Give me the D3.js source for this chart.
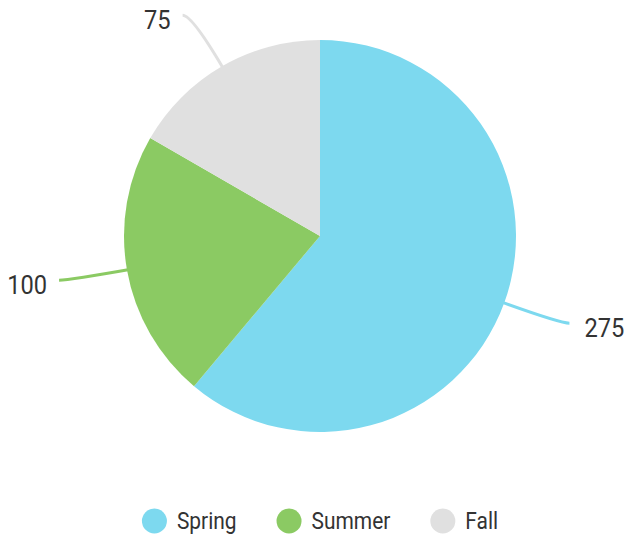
<!DOCTYPE html>
<html lang="en">
<head>
<meta charset="UTF-8">
<title>Seasons pie</title>
<script src="https://d3js.org/d3.v7.min.js"></script>
<style>
  body { margin: 0; background: #fff; }
  text { font-family: Roboto, "Noto Sans", sans-serif; fill: #333; }
</style>
</head>
<body>
<div id="chart"></div>
<script>
const seasons = ["Spring", "Summer", "Fall"];
const counts = [275, 100, 75];
const colors = ["#7dd9ef", "#8bca63", "#e0e0e0"];

const W = 629, H = 535;
const cx = 320, cy = 236, r = 196;
const squeeze = 0.91; // text looks condensed

const svg = d3.select("#chart").append("svg")
    .attr("width", W).attr("height", H);

const data = seasons.map((s, i) => ({ name: s, value: counts[i], color: colors[i] }));

const pie = d3.pie().sort(null).value(d => d.value);
const arcs = pie(data);
const arc = d3.arc().innerRadius(0).outerRadius(r);

const g = svg.append("g").attr("transform", `translate(${cx},${cy})`);

// polar point, angle measured clockwise from 12 o'clock
const polar = (a, rad) => [rad * Math.sin(a), -rad * Math.cos(a)];

// leader lines go under the slices
const topY = 14 - cy;
arcs.forEach(d => {
  let a = (d.startAngle + d.endAngle) / 2;
  let R = r * 1.3;
  let c = polar(a, R);
  if (c[1] < topY) {
    // keep label inside the frame, slide it along the circle
    const dx = Math.sqrt(R * R - topY * topY);
    c = [Math.sin(a) < 0 ? -dx : dx, topY];
    a = Math.atan2(c[0], -c[1]);
  }
  const side = c[0] < 0 ? -1 : 1;
  const s = polar(a, r * 0.95);
  const e = [c[0] + side * 10, c[1]];
  const p = d3.path();
  p.moveTo(s[0], s[1]);
  p.quadraticCurveTo(c[0], c[1], e[0], e[1]);
  g.append("path")
      .attr("d", p.toString())
      .attr("fill", "none")
      .attr("stroke", d.data.color)
      .attr("stroke-width", 3);
  g.append("text")
      .attr("transform", `translate(${e[0] + side * (side < 0 ? 12 : 15)},${e[1] + 14}) scale(${squeeze},1)`)
      .attr("text-anchor", side < 0 ? "end" : "start")
      .attr("font-size", 26)
      .text(d.data.value);
});

g.selectAll("path.slice")
  .data(arcs)
  .join("path")
    .attr("class", "slice")
    .attr("d", arc)
    .attr("fill", d => d.data.color);

// legend, laid out left to right by measured text width
const dotR = 12.5, textGap = 10, itemGap = 40;
const lg = svg.append("g");
const item = lg.selectAll("g").data(data).join("g");
item.append("circle").attr("r", dotR).attr("fill", d => d.color);
item.append("text")
    .attr("transform", `translate(${dotR + textGap},8) scale(${squeeze},1)`)
    .attr("font-size", 23)
    .text(d => d.name);

let x = 0;
item.each(function () {
  const tw = d3.select(this).select("text").node().getComputedTextLength() * squeeze;
  d3.select(this).attr("transform", `translate(${x + dotR},0)`);
  x += 2 * dotR + textGap + tw + itemGap;
});
const total = x - itemGap;
lg.attr("transform", `translate(${cx - total / 2},521)`);
</script>
</body>
</html>
